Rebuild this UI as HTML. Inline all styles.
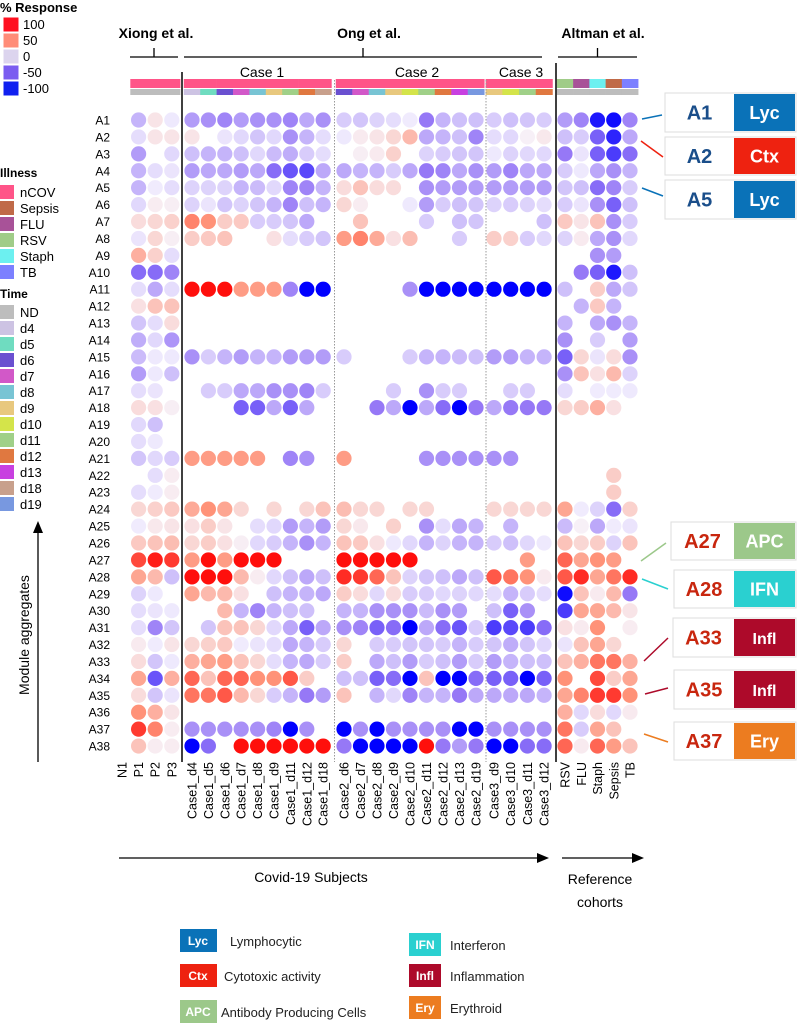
<!DOCTYPE html>
<html><head><meta charset="utf-8"><style>
body{margin:0;background:#fff;width:797px;height:1023px;overflow:hidden}
svg{display:block;font-family:"Liberation Sans",Arial,sans-serif}
</style></head><body>
<svg id="chart" width="797" height="1023" viewBox="0 0 797 1023"></svg>
<script>
const rowLabels=[];for(let i=1;i<=38;i++)rowLabels.push('A'+i);
const colLabels=['N1','P1','P2','P3','Case1_d4','Case1_d5','Case1_d6','Case1_d7','Case1_d8','Case1_d9','Case1_d11','Case1_d12','Case1_d18','Case2_d6','Case2_d7','Case2_d8','Case2_d9','Case2_d10','Case2_d11','Case2_d12','Case2_d13','Case2_d19','Case3_d9','Case3_d10','Case3_d11','Case3_d12','RSV','FLU','Staph','Sepsis','TB'];
const colGroup=[0,0,0,0,1,1,1,1,1,1,1,1,1,2,2,2,2,2,2,2,2,2,3,3,3,3,4,4,4,4,4];
const colTime=['ND','ND','ND','ND','d4','d5','d6','d7','d8','d9','d11','d12','d18','d6','d7','d8','d9','d10','d11','d12','d13','d19','d9','d10','d11','d12','ND','ND','ND','ND','ND'];
const colIllness=['nCOV','nCOV','nCOV','nCOV','nCOV','nCOV','nCOV','nCOV','nCOV','nCOV','nCOV','nCOV','nCOV','nCOV','nCOV','nCOV','nCOV','nCOV','nCOV','nCOV','nCOV','nCOV','nCOV','nCOV','nCOV','nCOV','RSV','FLU','Staph','Sepsis','TB'];
const _=null;
const values=[
[_,-25,8,-3, -35,-40,-45,-35,-40,-40,-45,-30,-40, -15,-18,-12,-8,-2,-50,-25,-20,-20, -15,-20,-18,-15, -35,-45,-90,-95,-45],
[_,-8,8,8, 8,_,-5,-10,-18,-10,-40,-25,-8, -3,5,8,15,30,-30,-25,-20,-45, -8,-10,2,6, -20,-15,-60,-85,-30],
[_,-35,_,-10, -20,-25,-25,-20,-10,-22,-28,-15,-8, _,3,5,18,_,-12,-15,-18,-18, -3,-12,-10,-10, -50,-5,-60,-75,-55],
[_,-25,-8,-5, -35,-30,-30,-35,-30,-55,-65,-70,-30, -30,-25,-25,-15,-30,-50,-45,-30,-40, -35,-45,-30,-30, -15,-3,-30,-40,-25],
[_,-25,-2,-8, -12,-12,-12,-25,-22,-10,-45,-45,-25, 12,25,12,12,_,-40,-35,-35,-35, -35,-35,-35,-35, -18,-20,-55,-45,-15],
[_,-10,4,3, -12,-5,-18,-12,-18,-25,-45,-20,-25, 15,4,_,_,-3,-35,-15,-20,-18, -12,-15,-12,-8, -15,-5,-40,-60,-20],
[_,12,15,18, 55,50,20,22,-15,-15,-18,-30,_, _,25,_,_,_,-15,_,-20,-18, _,_,_,-20, 22,8,25,-40,-15],
[_,-5,15,3, 20,22,25,_,_,10,-8,-15,-18, 45,55,38,10,28,_,_,-15,_, 20,18,-15,-10, -12,5,-30,-40,-10],
[_,35,18,-8, _,_,_,_,_,_,_,_,_, _,_,_,_,_,_,_,_,_, _,_,_,_, _,_,-40,-35,_],
[_,-55,-55,-45, _,_,_,_,_,_,_,_,_, _,_,_,_,_,_,_,_,_, _,_,_,_, _,-50,-60,-90,-20],
[_,-8,-30,-8, 95,95,95,45,45,45,-45,-100,-100, _,_,_,_,-40,-100,-100,-100,-100, -100,-100,-100,-100, -20,_,20,-30,-18],
[_,10,25,25, _,_,_,_,_,_,_,_,_, _,_,_,_,_,_,_,_,_, _,_,_,_, _,-25,22,-25,_],
[_,-18,-8,12, _,_,_,_,_,_,_,_,_, _,_,_,_,_,_,_,_,_, _,_,_,_, -25,_,-30,-40,-25],
[_,-28,-10,-38, _,_,_,_,_,_,_,_,_, _,_,_,_,_,_,_,_,_, _,_,_,_, -40,_,-15,_,-35],
[_,-22,-3,-3, -40,-15,-25,-35,-25,-25,-35,-35,-35, -15,_,_,_,-15,-25,-25,-22,-20, -35,-35,-25,-25, -60,15,-5,12,-40],
[_,-35,-3,-20, _,_,_,_,_,_,_,_,_, _,_,_,_,_,_,_,_,_, _,_,_,_, -40,25,10,30,-12],
[_,-8,-5,_, _,-15,-15,-30,-30,-40,-40,-45,-15, _,_,_,-15,_,-40,-15,-15,_, _,-15,-15,_, -8,_,-2,-2,-3],
[_,12,10,3, _,_,_,-60,-60,-30,-60,-30,_, _,_,-50,-30,-100,-30,-55,-100,-50, -30,-50,-50,-50, 15,20,35,10,_],
[_,-10,-20,_, _,_,_,_,_,_,_,_,_, _,_,_,_,_,_,_,_,_, _,_,_,_, _,_,_,_,_],
[_,-8,-3,_, _,_,_,_,_,_,_,_,_, _,_,_,_,_,_,_,_,_, _,_,_,_, _,_,_,_,_],
[_,-18,-10,-15, 45,45,45,45,45,_,-45,-40,_, 45,_,_,_,_,-40,-40,-40,-40, -40,-40,_,_, _,_,_,_,_],
[_,_,-8,4, _,_,_,_,_,_,_,_,_, _,_,_,_,_,_,_,_,_, _,_,_,_, _,_,_,20,_],
[_,-8,-2,4, _,_,_,_,_,_,_,_,_, _,_,_,_,_,_,_,_,_, _,_,_,_, _,_,_,20,_],
[_,15,18,22, 38,50,40,15,_,15,_,15,25, 28,15,15,_,15,15,_,_,_, 15,15,15,15, 40,-2,-12,-55,18],
[_,-2,6,8, 10,20,8,_,-8,-10,-35,-25,-35, 15,6,_,18,_,-40,-8,-30,-25, _,-25,_,_, -22,2,-30,-2,-5],
[_,22,25,28, 15,20,10,3,-10,-15,-25,-40,-25, 25,22,10,-3,-10,-25,-12,-25,-25, -15,-20,-10,-3, 25,15,20,-12,25],
[_,75,90,80, 45,95,45,95,95,95,_,_,_, 95,95,95,95,95,_,_,_,_, _,_,45,_, 65,40,50,45,_],
[_,40,30,-20, 95,95,95,30,4,-10,-20,-30,-20, 85,80,65,25,-12,-18,-20,-30,-20, 70,60,50,5, 70,85,40,60,85],
[_,-12,-3,_, 40,30,30,10,_,-20,-25,-25,-30, 20,12,-10,12,-15,-15,-10,-12,-10, -8,-25,-15,-8, -95,25,5,30,-50],
[_,-8,-5,-3, _,_,30,-25,-45,-25,-20,-20,_, -25,-25,-40,-40,-40,-22,-40,-35,_, -20,-60,-40,_, -75,40,40,30,8],
[_,-8,-45,-18, _,-18,25,25,15,-10,-30,-60,-30, -40,-45,-60,-55,-100,-30,-55,-65,-15, -75,-70,-75,-55, 10,5,50,_,4],
[_,5,-2,8, 15,18,22,-2,-5,-8,-30,-25,-15, 15,_,-15,-15,-18,-18,-15,-25,-15, -18,-28,-18,-10, -5,25,40,15,_],
[_,12,-18,-3, 35,40,45,25,15,-8,-25,-30,-15, 20,_,-30,-20,-35,-15,-20,-35,-15, -35,-25,-20,-20, 25,35,60,60,35],
[_,40,-65,35, 65,25,65,65,50,50,70,20,_, -20,-20,-60,-55,-100,25,-100,-100,-55, -60,-60,-100,-60, 50,_,75,20,40],
[_,12,-18,-5, 60,60,70,30,15,-15,-25,-50,-35, 25,_,-25,-10,-45,-25,-25,-50,-30, -30,-30,-30,-25, 40,55,80,80,50],
[_,50,35,8, _,_,_,_,_,_,_,_,_, _,_,_,_,_,_,_,_,_, _,_,_,_, 35,-10,12,-10,5],
[_,80,55,4, -40,-40,-40,-40,-40,-45,-100,-40,_, -100,-40,-100,-40,-40,-40,-40,-100,-100, -40,-40,-40,-40, 60,-15,40,25,_],
[_,25,4,4, -100,-55,_,95,95,95,95,95,95, -50,-100,-100,-100,-100,95,-50,-35,-50, -100,-100,-55,-55, 65,5,65,45,25]
];
const legendTicks=['100','50','0','-50','-100'];
const legendTickValues=[100,50,0,-50,-100];
const legendSwatchColors=['#ff1020','#ff8c78','#dcd4ee','#7a5cf0','#1020f0'];
const illnessNames=['nCOV','Sepsis','FLU','RSV','Staph','TB'];
const timeNames=['ND','d4','d5','d6','d7','d8','d9','d10','d11','d12','d13','d18','d19'];

const illnessColor={nCOV:'#ff5488',Sepsis:'#c06a48',FLU:'#a85298',RSV:'#a0cc88',Staph:'#6cf0f0',TB:'#7c80ff'};
const timeColor={ND:'#bdbdbd',d4:'#cdc3e3',d5:'#6fdcc0',d6:'#6a50d0',d7:'#d258c8',d8:'#78c4d4',d9:'#e8c87e',d10:'#d4e44a',d11:'#a0d088',d12:'#e07840',d13:'#c840e0',d18:'#c8a08c',d19:'#7898e0'};

const NS='http://www.w3.org/2000/svg';
const svg=document.getElementById('chart');
function mk(tag,attrs,parent,txt){const e=document.createElementNS(NS,tag);for(const k in attrs)e.setAttribute(k,attrs[k]);if(txt!==undefined)e.textContent=txt;(parent||svg).appendChild(e);return e;}

const groupStart=[122,192,344,494,565];
const groupStep=[16.6,16.4,16.5,16.7,16.25];
const groupFirst=[0,4,13,22,26];
function xPos(ci){const g=colGroup[ci];return groupStart[g]+(ci-groupFirst[g])*groupStep[g];}
function yPos(ri){return 120+ri*16.92;}
function lerp(a,b,t){return Math.round(a+(b-a)*t);}
function mix(c1,c2,t){return 'rgb('+lerp(c1[0],c2[0],t)+','+lerp(c1[1],c2[1],t)+','+lerp(c1[2],c2[2],t)+')';}
function color(v){
  const W=[247,244,252];
  if(v>=0){ if(v<=50) return mix(W,[255,146,120],v/50); return mix([255,146,120],[255,0,0],(v-50)/50);}
  const a=-v; if(a<=50) return mix([244,240,253],[150,120,246],a/50); return mix([150,120,246],[0,0,255],(a-50)/50);
}

mk('text',{x:0,y:12,'font-size':13,'font-weight':'bold',},svg,'% Response');
legendTickValues.forEach((v,i)=>{
  const y=17+i*16;
  const r=mk('rect',{x:3,y:y,width:16,height:15,fill:legendSwatchColors[i],stroke:'#fff'});
  
  const t=mk('text',{x:23,y:y+12,'font-size':13},svg,legendTicks[i]);
  
});
mk('text',{x:0,y:177,'font-size':12,'font-weight':'bold',},svg,'Illness');
illnessNames.forEach((n,i)=>{
  const y=185+i*16;
  const r=mk('rect',{x:0,y:y,width:14,height:14,fill:illnessColor[n]});
  
  const t=mk('text',{x:20,y:y+12,'font-size':13},svg,n);
  
});
mk('text',{x:0,y:298,'font-size':12,'font-weight':'bold',},svg,'Time');
timeNames.forEach((n,i)=>{
  const y=305+i*16;
  const r=mk('rect',{x:0,y:y,width:14,height:14,fill:timeColor[n]});
  
  const t=mk('text',{x:20,y:y+12,'font-size':13},svg,n);
  
});

[['Xiong et al.',156,130,178],['Ong et al.',369,184,542],['Altman et al.',603,558,637]].forEach(h=>{
  mk('text',{x:h[1],y:38,'font-size':14,'font-weight':'bold','text-anchor':'middle',},svg,h[0]);
  mk('path',{d:`M${h[2]} 57H${h[3]}M${(h[2]+h[3])/2} 57V48`,stroke:'#000','stroke-width':1.3,fill:'none',});
});
[['Case 1',262],['Case 2',417],['Case 3',521]].forEach(c=>{
  mk('text',{x:c[1],y:77,'font-size':14,'text-anchor':'middle',},svg,c[0]);
});

colLabels.forEach((c,ci)=>{
  if(ci===0) return;
  const x=xPos(ci), w=groupStep[colGroup[ci]];
  const a=mk('rect',{x:x-w/2,y:79,width:w+0.3,height:9,fill:illnessColor[colIllness[ci]]});
  
  const b=mk('rect',{x:x-w/2,y:89,width:w+0.3,height:6,fill:timeColor[colTime[ci]]});
  
});

mk('line',{x1:182,y1:72,x2:182,y2:762,stroke:'#000','stroke-width':1.5,});
mk('line',{x1:334.5,y1:80,x2:334.5,y2:762,stroke:'#999','stroke-width':1,'stroke-dasharray':'1.5 1.5',});
mk('line',{x1:486,y1:80,x2:486,y2:762,stroke:'#999','stroke-width':1,'stroke-dasharray':'1.5 1.5',});
mk('line',{x1:556,y1:63,x2:556,y2:762,stroke:'#000','stroke-width':1.5,});

rowLabels.forEach((r,ri)=>{
  const t=mk('text',{x:110,y:yPos(ri)+4.5,'font-size':12,'text-anchor':'end'},svg,r);
  
});
colLabels.forEach((c,ci)=>{
  const x=xPos(ci)+4.5;
  const t=mk('text',{x:0,y:0,'font-size':12.5,'text-anchor':'end',transform:`translate(${x},762) rotate(-90)`},svg,c);
  
});
values.forEach((row,ri)=>row.forEach((v,ci)=>{
  if(v===null||v===undefined) return;
  const d=mk('circle',{cx:xPos(ci),cy:yPos(ri),r:7.6,fill:color(v)});
  
}));

mk('path',{d:'M38 762V532',stroke:'#000','stroke-width':1.3,fill:'none',});
mk('path',{d:'M33 533L38 521L43 533Z',fill:'#000',});
mk('text',{x:0,y:0,'font-size':14,'text-anchor':'middle',transform:'translate(29,635) rotate(-90)',},svg,'Module aggregates');
mk('path',{d:'M119 858H540',stroke:'#000','stroke-width':1.3,});
mk('path',{d:'M537 853L549 858L537 863Z',fill:'#000',});
mk('text',{x:311,y:882,'font-size':14,'text-anchor':'middle',},svg,'Covid-19 Subjects');
mk('path',{d:'M562 858H635',stroke:'#000','stroke-width':1.3,});
mk('path',{d:'M632 853L644 858L632 863Z',fill:'#000',});
mk('text',{x:600,y:884,'font-size':14,'text-anchor':'middle',},svg,'Reference');
mk('text',{x:600,y:907,'font-size':14,'text-anchor':'middle',},svg,'cohorts');

const cats={Lyc:'#0a72b8',Ctx:'#ee2210',APC:'#9cc88a',IFN:'#2ad0d0',Infl:'#ad0a2a',Ery:'#ec7c20'};
const callouts=[
 ['A1','Lyc',665,93,39,'#1a4e8a',[642,119,662,115]],
 ['A2','Ctx',665,137,38,'#1a4e8a',[641,141,663,157]],
 ['A5','Lyc',665,180,39,'#1a4e8a',[642,188,663,196]],
 ['A27','APC',671,522,38,'#c8260e',[641,561,666,543]],
 ['A28','IFN',674,570,38,'#c8260e',[642,579,668,589]],
 ['A33','Infl',673,618,39,'#c8260e',[644,661,668,638]],
 ['A35','Infl',674,670,39,'#c8260e',[645,694,668,688]],
 ['A37','Ery',674,722,38,'#c8260e',[644,734,668,742]]];
callouts.forEach(c=>{
  const g=mk('g',{});
  mk('line',{x1:c[6][0],y1:c[6][1],x2:c[6][2],y2:c[6][3],stroke:cats[c[1]],'stroke-width':1.5},g);
  mk('rect',{x:c[2],y:c[3],width:796-c[2],height:c[4],fill:'#fff',stroke:'#ddd'},g);
  mk('rect',{x:734,y:c[3]+1,width:61,height:c[4]-2,fill:cats[c[1]]},g);
  mk('text',{x:(c[2]+734)/2,y:c[3]+c[4]/2+7,'font-size':20,'font-weight':'bold','text-anchor':'middle',fill:c[5]},g,c[0]);
  mk('text',{x:764.5,y:c[3]+c[4]/2+6.5,'font-size':c[1].length>3?16:18,'font-weight':'bold','text-anchor':'middle',fill:'#fff'},g,c[1]);
});

const bl=[['Lyc','Lymphocytic',180,929,230],['Ctx','Cytotoxic activity',180,964,224],['APC','Antibody Producing Cells',180,1000,221],
['IFN','Interferon',409,933,450],['Infl','Inflammation',409,964,450],['Ery','Erythroid',409,996,450]];
bl.forEach(b=>{
  const g=mk('g',{});
  mk('rect',{x:b[2],y:b[3],width:b[2]>400?32:37,height:23,fill:cats[b[0]]},g);
  mk('text',{x:b[2]+(b[2]>400?16:18),y:b[3]+16,'font-size':12,'font-weight':'bold','text-anchor':'middle',fill:'#fff'},g,b[0]);
  mk('text',{x:b[4],y:b[3]+17,'font-size':13,fill:'#222'},g,b[1]);
});
</script>
</body></html>
